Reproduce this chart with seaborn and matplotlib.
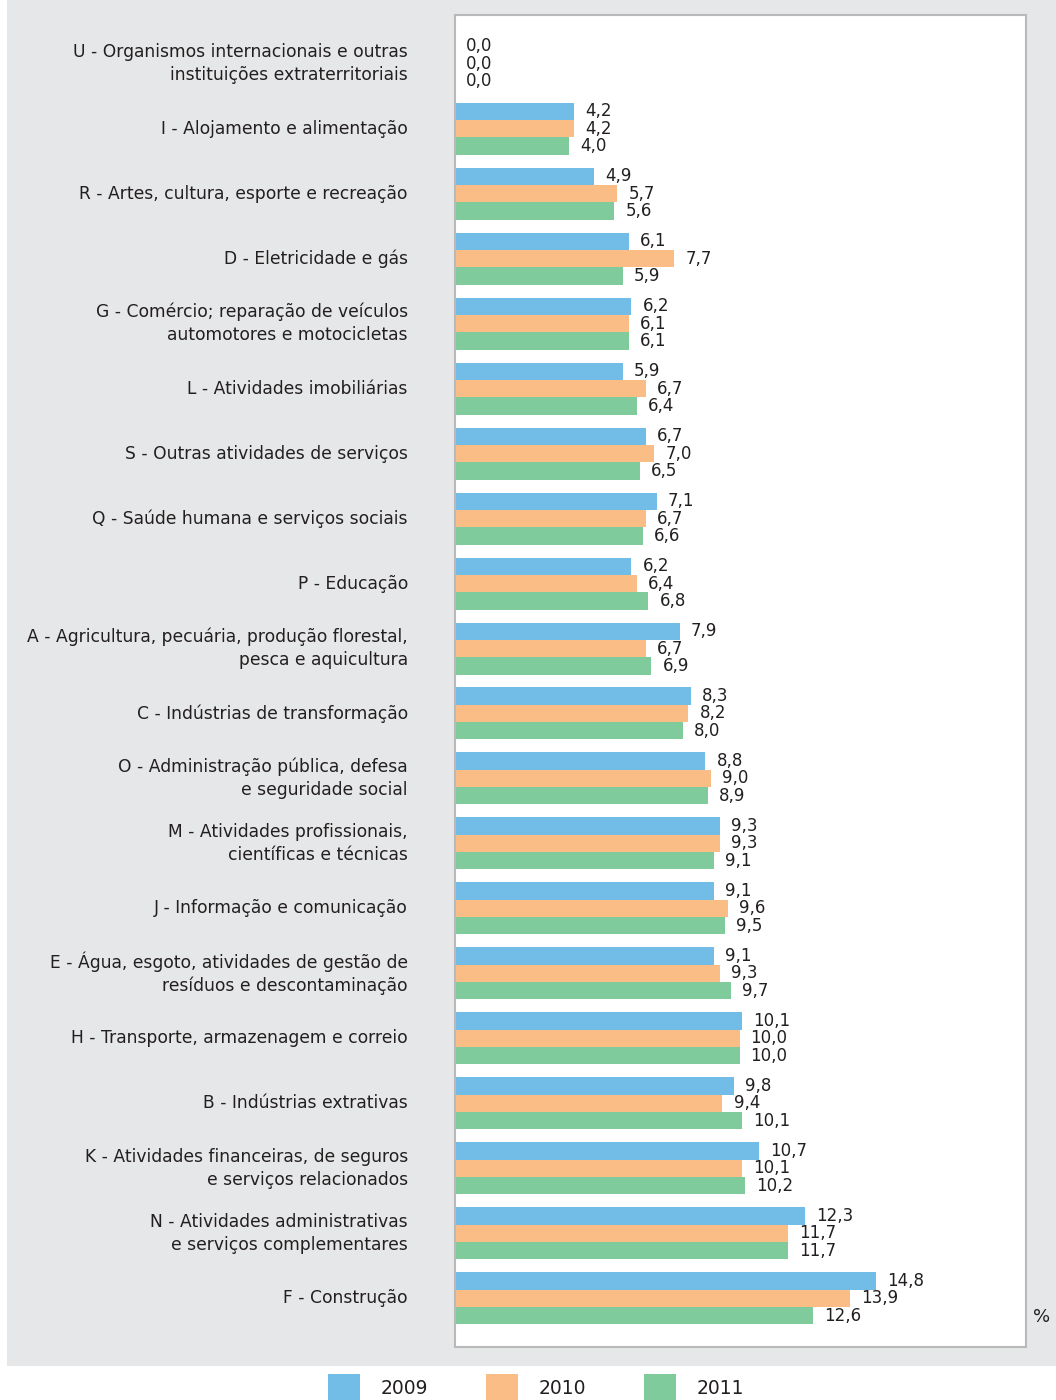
import pandas as pd
import seaborn as sns
import matplotlib.pyplot as plt
from matplotlib.patches import Rectangle

# Data (share of establishments by activity section, %)
categories = [
    'U - Organismos internacionais e outras\ninstituições extraterritoriais',
    'I - Alojamento e alimentação',
    'R - Artes, cultura, esporte e recreação',
    'D - Eletricidade e gás',
    'G - Comércio; reparação de veículos\nautomotores e motocicletas',
    'L - Atividades imobiliárias',
    'S - Outras atividades de serviços',
    'Q - Saúde humana e serviços sociais',
    'P - Educação',
    'A - Agricultura, pecuária, produção florestal,\npesca e aquicultura',
    'C - Indústrias de transformação',
    'O - Administração pública, defesa\ne seguridade social',
    'M - Atividades profissionais,\ncientíficas e técnicas',
    'J - Informação e comunicação',
    'E - Água, esgoto, atividades de gestão de\nresíduos e descontaminação',
    'H - Transporte, armazenagem e correio',
    'B - Indústrias extrativas',
    'K - Atividades financeiras, de seguros\ne serviços relacionados',
    'N - Atividades administrativas\ne serviços complementares',
    'F - Construção',
]
years = ['2009', '2010', '2011']
v2009 = [0.0, 4.2, 4.9, 6.1, 6.2, 5.9, 6.7, 7.1, 6.2, 7.9, 8.3, 8.8, 9.3, 9.1, 9.1, 10.1, 9.8, 10.7, 12.3, 14.8]
v2010 = [0.0, 4.2, 5.7, 7.7, 6.1, 6.7, 7.0, 6.7, 6.4, 6.7, 8.2, 9.0, 9.3, 9.6, 9.3, 10.0, 9.4, 10.1, 11.7, 13.9]
v2011 = [0.0, 4.0, 5.6, 5.9, 6.1, 6.4, 6.5, 6.6, 6.8, 6.9, 8.0, 8.9, 9.1, 9.5, 9.7, 10.0, 10.1, 10.2, 11.7, 12.6]
colors = ['#72bce8', '#fbbd86', '#80cb9c']

rows = []
for year, vals in zip(years, [v2009, v2010, v2011]):
    for cat, v in zip(categories, vals):
        rows.append({'cat': cat, 'year': year, 'val': v})
df = pd.DataFrame(rows)

sns.set_style('white')
plt.rcParams['font.family'] = ['DejaVu Sans']
text_color = '#231f20'

fig = plt.figure(figsize=(10.56, 14), dpi=100)
fig.patch.set_facecolor('white')
# gray panel behind the chart
fig.patches.append(Rectangle((7 / 1056, 1 - 1366 / 1400), 1 - 7 / 1056, 1366 / 1400,
                             transform=fig.transFigure, facecolor='#e6e7e8',
                             edgecolor='none', zorder=-1))

ax = fig.add_axes([455 / 1056, 1 - 1347 / 1400, 571 / 1056, 1332 / 1400])
ax.set_zorder(1)
ax.set_facecolor('white')

sns.barplot(data=df, y='cat', x='val', hue='year', orient='h', palette=colors,
            width=0.8, saturation=1, linewidth=0, ax=ax,
            order=categories, hue_order=years)

for cont in ax.containers:
    labels = [f'{w:.1f}'.replace('.', ',') for w in cont.datavalues]
    ax.bar_label(cont, labels=labels, padding=8, fontsize=12, color=text_color)

ax.set_xlim(0, 20.07)
ax.set_ylim(19.75, -0.75)
ax.set_xticks([])
ax.set_xlabel('')
ax.set_ylabel('')
ax.set_yticks(range(len(categories)))
ax.set_yticklabels(categories, fontsize=12.3, color=text_color, linespacing=1.35)
for t in ax.get_yticklabels():
    t.set_verticalalignment('center')
ax.tick_params(axis='y', length=0, pad=34)
for s in ax.spines.values():
    s.set_visible(True)
    s.set_color('#b9b9b9')
    s.set_linewidth(1.5)

# legend below the panel
sns.move_legend(ax, 'upper center', bbox_to_anchor=(536 / 1056, 1 - 1374 / 1400),
                bbox_transform=fig.transFigure, ncol=3, frameon=False, title=None,
                fontsize=13.5, handlelength=1.7, handleheight=1.9, columnspacing=3.1,
                handletextpad=1.1, borderaxespad=0, borderpad=0)
for t in ax.get_legend().get_texts():
    t.set_color(text_color)

fig.text(1042 / 1056, 1 - 1317 / 1400, '%', ha='center', va='center',
         fontsize=13, color=text_color)

fig.savefig('out.png', dpi=100)
